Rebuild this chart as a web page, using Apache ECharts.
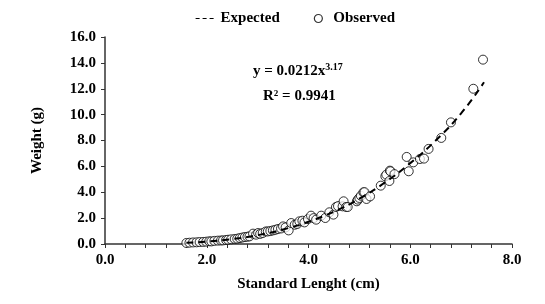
<!DOCTYPE html>
<html>
<head>
<meta charset="utf-8">
<script src="https://cdn.jsdelivr.net/npm/echarts@6/dist/echarts.min.js"></script>
<style>
  html, body { margin: 0; padding: 0; background: #fff; }
  #chart { width: 545px; height: 304px; }
</style>
</head>
<body>
<div id="chart"></div>
<script>
// observed fish: standard length (cm) and weight (g)
const obsLength = [
  1.60, 1.66, 1.73, 1.80, 1.86, 1.93, 1.99, 2.05, 2.09, 2.15, 2.22, 2.28, 2.32, 2.38, 2.42,
  2.48, 2.55, 2.60, 2.65, 2.70, 2.75, 2.80, 2.84, 2.91, 2.97, 3.01, 3.05, 3.10, 3.16, 3.20,
  3.25, 3.30, 3.35, 3.40, 3.46, 3.50, 3.55, 3.61, 3.66, 3.73, 3.78, 3.82, 3.88, 3.92, 3.99,
  4.05, 4.10, 4.15, 4.25, 4.33, 4.41, 4.49, 4.54, 4.58, 4.67, 4.69, 4.74, 4.77, 4.95, 4.97,
  5.00, 5.03, 5.08, 5.10, 5.14, 5.21, 5.42, 5.51, 5.53, 5.59, 5.60, 5.61, 5.69, 5.93, 5.97,
  6.06, 6.19, 6.27, 6.36, 6.61, 6.80, 7.24, 7.43
];
const obsWeight = [
  0.08, 0.10, 0.12, 0.13, 0.15, 0.16, 0.18, 0.21, 0.20, 0.24, 0.26, 0.27, 0.28, 0.31, 0.33,
  0.36, 0.39, 0.41, 0.46, 0.50, 0.54, 0.56, 0.59, 0.80, 0.72, 0.85, 0.78, 0.85, 0.97, 0.97,
  1.00, 1.05, 1.10, 1.16, 1.20, 1.36, 1.28, 1.05, 1.62, 1.49, 1.55, 1.75, 1.80, 1.67, 1.93,
  2.19, 2.00, 1.88, 2.19, 2.01, 2.45, 2.27, 2.86, 2.93, 2.91, 3.30, 2.86, 2.86, 3.30, 3.43,
  3.56, 3.73, 3.99, 4.01, 3.48, 3.68, 4.51, 5.23, 5.36, 4.87, 5.67, 5.62, 5.40, 6.73, 5.62,
  6.31, 6.57, 6.60, 7.35, 8.20, 9.40, 12.0, 14.25
];

// dashed "expected" curve
const expLength = [1.6, 2.0, 2.5, 3.0, 3.5, 4.0, 4.5, 5.0, 5.5, 6.0, 6.5, 7.0, 7.45];
const expWeight = [0.09, 0.19, 0.38, 0.68, 1.12, 1.72, 2.5, 3.5, 4.75, 6.25, 8.0, 10.1, 12.5];

const FONT = '"Liberation Serif", "Times New Roman", serif';

const observed = obsLength.map((x, i) => [x, obsWeight[i]]);
const expected = expLength.map((x, i) => [x, expWeight[i]]);

const chart = echarts.init(document.getElementById('chart'));

const option = {
  animation: false,
  backgroundColor: '#fff',
  textStyle: { fontFamily: FONT },
  legend: {
    top: 6,
    left: 190,
    itemWidth: 20,
    itemHeight: 8,
    itemGap: 34,
    textStyle: { fontFamily: FONT, fontWeight: 'bold', fontSize: 15, color: '#000' },
    data: [
      {
        name: 'Expected',
        itemStyle: { opacity: 0 },
        lineStyle: { color: '#000', width: 1.2, type: [4, 3] }
      },
      { name: 'Observed', icon: 'circle', itemStyle: { color: '#fff', borderColor: '#000', borderWidth: 1.2 } }
    ]
  },
  grid: {
    left: 105,
    right: 33,
    top: 37,
    bottom: 60
  },
  xAxis: {
    type: 'value',
    min: 0,
    max: 8,
    interval: 2,
    name: 'Standard Lenght (cm)',
    nameLocation: 'middle',
    nameGap: 33,
    nameTextStyle: { fontFamily: FONT, fontWeight: 'bold', fontSize: 15, color: '#000' },
    axisLine: { lineStyle: { color: '#333', width: 1.5 } },
    axisTick: { show: true, inside: false, length: 4, lineStyle: { color: '#333' } },
    minorTick: { show: true, splitNumber: 5, length: 4, lineStyle: { color: '#333' } },
    splitLine: { show: false },
    axisLabel: {
      fontFamily: FONT, fontWeight: 'bold', fontSize: 15, color: '#000', margin: 9,
      formatter: v => v.toFixed(1)
    }
  },
  yAxis: {
    type: 'value',
    min: 0,
    max: 16,
    interval: 2,
    name: 'Weight (g)',
    nameLocation: 'middle',
    nameGap: 60,
    nameRotate: 90,
    nameTextStyle: { fontFamily: FONT, fontWeight: 'bold', fontSize: 15, color: '#000' },
    axisLine: { show: true, lineStyle: { color: '#333', width: 1.5 } },
    axisTick: { show: true, inside: false, length: 4, lineStyle: { color: '#333' } },
    splitLine: { show: false },
    axisLabel: {
      fontFamily: FONT, fontWeight: 'bold', fontSize: 15, color: '#000', margin: 9,
      formatter: v => v.toFixed(1)
    }
  },
  graphic: [
    {
      type: 'text',
      left: 253,
      top: 62,
      style: {
        text: '{b|y = 0.0212x}{s|3.17}',
        rich: {
          b: { fontFamily: FONT, fontWeight: 'bold', fontSize: 15, fill: '#000', verticalAlign: 'bottom' },
          s: { fontFamily: FONT, fontWeight: 'bold', fontSize: 10, fill: '#000', verticalAlign: 'top', padding: [0, 0, 7, 0] }
        }
      }
    },
    {
      type: 'text',
      left: 263,
      top: 89,
      style: {
        text: 'R² = 0.9941',
        fontFamily: FONT,
        fontWeight: 'bold',
        fontSize: 15,
        fill: '#000'
      }
    }
  ],
  series: [
    {
      name: 'Expected',
      type: 'line',
      data: expected,
      smooth: true,
      symbol: 'none',
      z: 3,
      lineStyle: { color: '#000', width: 2, type: [7, 5] },
      itemStyle: { color: '#000' }
    },
    {
      name: 'Observed',
      type: 'scatter',
      data: observed,
      symbol: 'circle',
      symbolSize: 9,
      z: 2,
      itemStyle: { color: 'rgba(255,255,255,0.9)', borderColor: '#000', borderWidth: 1 }
    }
  ]
};

chart.setOption(option);

window.addEventListener('resize', () => {
  chart.resize();
});
</script>
</body>
</html>
